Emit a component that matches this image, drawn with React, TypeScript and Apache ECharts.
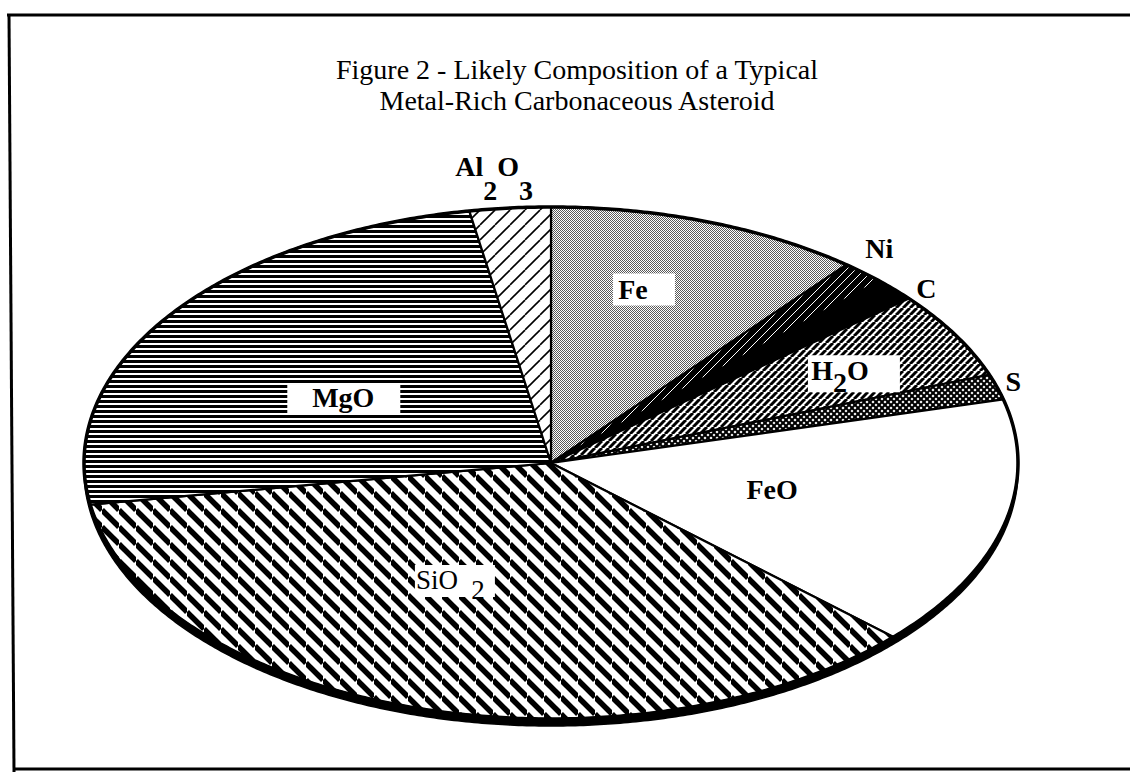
import React, { useEffect, useRef } from "react";
import * as echarts from "echarts";

// ---------- data (clockwise from 12 o'clock) ----------
const categories = ["Fe", "Ni", "C", "H2O", "S", "FeO", "SiO2", "MgO", "Al2O3"];
const values = [10.9, 1.5, 1.5, 5.5, 1.6, 15.9, 35.5, 24.8, 2.8];
const titleLines = [
  "Figure 2 - Likely Composition of a Typical",
  "Metal-Rich Carbonaceous Asteroid",
];

// ---------- layout / style ----------
const GEOM = { cx: 551, cy: 463, rx: 467, ry: 256, depth: 7, start: 90 };
const FONT = '"Liberation Serif", "Times New Roman", serif';

type Part = { t: string; dx?: number; dy?: number };
type LabelCfg = {
  dA: number;
  r: number;
  box?: number[];
  bold?: boolean;
  size?: number;
  parts?: Part[];
  rich?: string;
  drop?: number;
};
const LABEL_LAYOUT: Record<string, LabelCfg> = {
  Fe: { dA: 5.1, r: 0.7, box: [-20, -16, 62, 32], parts: [{ t: "Fe" }] },
  Ni: { dA: 2.0, r: 1.095, parts: [{ t: "Ni" }] },
  C: { dA: -2.3, r: 1.055, parts: [{ t: "C" }] },
  H2O: { dA: 0.3, r: 0.717, box: [-32, -15, 92, 37], rich: "{t|H}{s|2}{t|O}", drop: 12 },
  S: { dA: 0.6, r: 1.04, parts: [{ t: "S" }] },
  FeO: { dA: 1.7, r: 0.485, parts: [{ t: "FeO" }] },
  SiO2: {
    dA: -11.4, r: 0.518, box: [-22, -15, 80, 32], bold: false, size: 27,
    parts: [{ t: "SiO" }, { t: "2", dx: 41, dy: 10 }],
  },
  MgO: { dA: 5.2, r: 0.514, box: [-56, -14, 113, 30], parts: [{ t: "MgO" }] },
  Al2O3: { dA: 0.96, r: 1.166, rich: "{t|Al}{s|2}{t|O}{s|3}", drop: 24 },
};

function tile(
  w: number,
  h: number,
  draw: (ctx: CanvasRenderingContext2D, w: number, h: number) => void,
  bg = "#fff"
) {
  const c = document.createElement("canvas");
  c.width = w;
  c.height = h;
  const ctx = c.getContext("2d")!;
  ctx.fillStyle = bg;
  ctx.fillRect(0, 0, w, h);
  draw(ctx, w, h);
  return { image: c.toDataURL(), repeat: "repeat", imageWidth: w, imageHeight: h } as any;
}
function diag(ctx: CanvasRenderingContext2D, s: number, lw: number, color: string, dir: "/" | "\\") {
  ctx.strokeStyle = color;
  ctx.lineWidth = lw;
  for (let k = -1; k <= 1; k++) {
    ctx.beginPath();
    if (dir === "/") {
      ctx.moveTo(k * s, s);
      ctx.lineTo(k * s + s, 0);
    } else {
      ctx.moveTo(0, k * s);
      ctx.lineTo(s, s + k * s);
    }
    ctx.stroke();
  }
}

function makePatterns(): Record<string, any> {
  return {
    Fe: tile(2, 2, (ctx) => {
      ctx.fillStyle = "#5a5a5a";
      ctx.fillRect(0, 0, 1, 1);
      ctx.fillRect(1, 1, 1, 1);
    }),
    Ni: tile(9, 9, (ctx, s) => diag(ctx, s, 1, "#fff", "/"), "#000"),
    C: "#000",
    H2O: tile(7, 7, (ctx, s) => diag(ctx, s, 3, "#000", "/")),
    S: tile(6, 6, (ctx, s) => {
      diag(ctx, s, 2, "#000", "/");
      diag(ctx, s, 2, "#000", "\\");
    }),
    FeO: "#fff",
    SiO2: tile(17, 17, (ctx, s) => diag(ctx, s, 5.5, "#000", "\\")),
    MgO: tile(4, 5, (ctx) => {
      ctx.fillStyle = "#000";
      ctx.fillRect(0, 0, 4, 3);
    }),
    Al2O3: tile(15, 15, (ctx, s) => diag(ctx, s, 1.6, "#000", "/")),
  };
}

function pt(deg: number, r = 1): number[] {
  const a = (deg * Math.PI) / 180;
  return [GEOM.cx + GEOM.rx * r * Math.cos(a), GEOM.cy - GEOM.ry * r * Math.sin(a)];
}
function arc(a0: number, a1: number, r = 1, dy = 0): number[][] {
  const n = Math.max(2, Math.ceil(Math.abs(a1 - a0) / 0.5));
  const out: number[][] = [];
  for (let k = 0; k <= n; k++) {
    const p = pt(a0 + ((a1 - a0) * k) / n, r);
    out.push([p[0], p[1] + dy]);
  }
  return out;
}

export default function App() {
  const ref = useRef<HTMLDivElement>(null);
  useEffect(() => {
    const chart = echarts.init(ref.current!, null, { renderer: "svg" });
    const patterns = makePatterns();
    const total = values.reduce((a, b) => a + b, 0);
    const cum: number[] = [0];
    values.forEach((v) => cum.push(cum[cum.length - 1] + v));

    const renderItem = (params: any, api: any) => {
      const i = params.dataIndex;
      const name = categories[i];
      const a0 = GEOM.start - (cum[i] / total) * 360;
      const a1 = GEOM.start - ((cum[i] + api.value(0)) / total) * 360;
      const children: any[] = [];
      if (i === 0) {
        const upper = arc(180, 360);
        const lower = arc(360, 180, 1, GEOM.depth);
        children.push({
          type: "polygon",
          shape: { points: upper.concat(lower) },
          style: { fill: "#000", stroke: "#000", lineWidth: 1.5 },
        });
      }
      children.push({
        type: "polygon",
        shape: { points: [[GEOM.cx, GEOM.cy]].concat(arc(a0, a1)) },
        style: { fill: patterns[name], stroke: "#000", lineWidth: 2.2, lineJoin: "miter" },
      });
      const cfg = LABEL_LAYOUT[name];
      if (cfg) {
        const [lx, ly] = pt((a0 + a1) / 2 + cfg.dA, cfg.r);
        const size = cfg.size || 28;
        const weight = cfg.bold === false ? "normal" : "bold";
        if (cfg.box) {
          children.push({
            type: "rect",
            z2: 20,
            shape: { x: lx + cfg.box[0], y: ly + cfg.box[1], width: cfg.box[2], height: cfg.box[3] },
            style: { fill: "#fff" },
          });
        }
        if (cfg.rich) {
          const h = size;
          const drop = cfg.drop || 12;
          children.push({
            type: "text",
            z2: 30,
            style: {
              text: cfg.rich,
              x: lx,
              y: ly - h / 2,
              align: "center",
              verticalAlign: "top",
              fontFamily: FONT,
              fontSize: size,
              fontWeight: weight,
              fill: "#000",
              rich: {
                t: {
                  fontFamily: FONT, fontSize: size, fontWeight: weight, fill: "#000",
                  lineHeight: h, verticalAlign: "top",
                },
                s: {
                  fontFamily: FONT, fontSize: size, fontWeight: weight, fill: "#000",
                  lineHeight: h + drop, verticalAlign: "bottom",
                },
              },
            },
          });
        }
        (cfg.parts || []).forEach((p) => {
          children.push({
            type: "text",
            z2: 30,
            style: {
              text: p.t,
              x: lx + (p.dx || 0),
              y: ly + (p.dy || 0),
              fontFamily: FONT,
              fontSize: size,
              fontWeight: weight,
              fill: "#000",
              align: "center",
              verticalAlign: "middle",
            },
          });
        });
      }
      if (i === categories.length - 1) {
        children.push({
          type: "polyline",
          z2: 10,
          shape: { points: arc(0, 360) },
          style: { fill: "none", stroke: "#000", lineWidth: 3.5 },
        });
      }
      return { type: "group", children };
    };

    chart.setOption({
      animation: false,
      backgroundColor: "#fff",
      graphic: [
        { type: "line", shape: { x1: 7, y1: 15, x2: 1130, y2: 15 }, style: { stroke: "#000", lineWidth: 3 } },
        { type: "line", shape: { x1: 9, y1: 14, x2: 14, y2: 772 }, style: { stroke: "#000", lineWidth: 3 } },
        { type: "line", shape: { x1: 13, y1: 769, x2: 1130, y2: 769 }, style: { stroke: "#000", lineWidth: 3 } },
        {
          type: "text",
          x: 577,
          y: 84.5,
          style: {
            text: titleLines.join("\n"),
            fontFamily: FONT,
            fontSize: 28,
            lineHeight: 31,
            fill: "#000",
            align: "center",
            verticalAlign: "middle",
          },
        },
      ],
      series: [
        {
          type: "custom",
          coordinateSystem: "none",
          silent: true,
          renderItem,
          data: values.map((v, i) => ({ value: v, name: categories[i] })),
        },
      ],
    });
    return () => chart.dispose();
  }, []);
  return (
    <div
      ref={ref}
      style={{ position: "fixed", left: 0, top: 0, width: 1130, height: 773, background: "#fff" }}
    />
  );
}
